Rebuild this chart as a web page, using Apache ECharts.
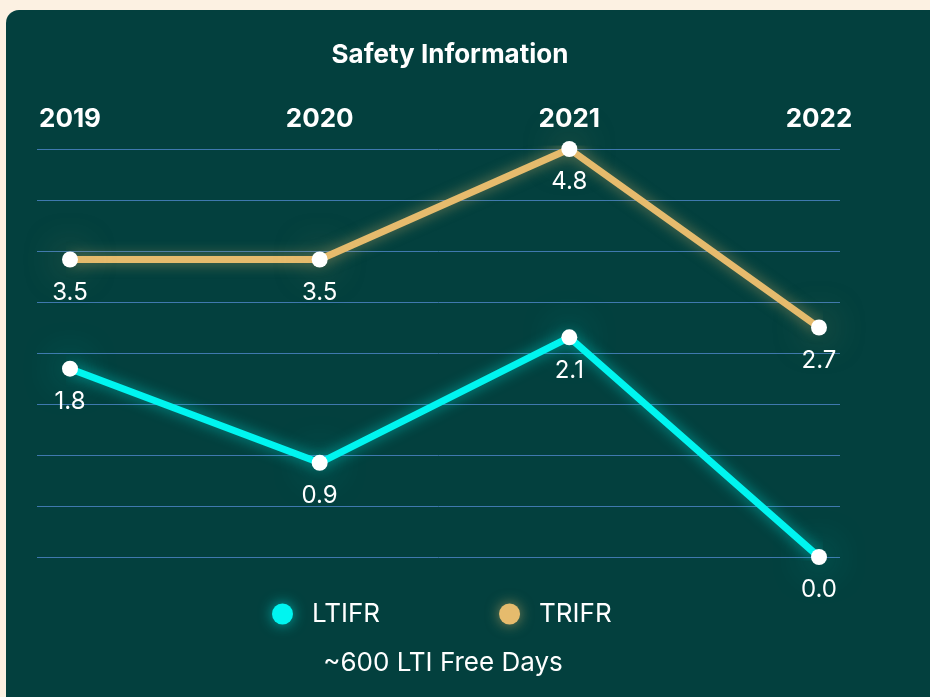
<!DOCTYPE html>
<html>
<head>
<meta charset="utf-8">
<script src="https://cdn.jsdelivr.net/npm/echarts@6/dist/echarts.min.js"></script>
<style>
html,body{margin:0;padding:0;background:#fcf1e2;}
#chart{width:930px;height:697px;}
</style>
</head>
<body>
<div id="chart"></div>
<script>
var years = ['2019', '2020', '2021', '2022'];
var ltifr = [1.8, 0.9, 2.1, 0.0];
var trifr = [3.5, 3.5, 4.8, 2.7];
var titleText = 'Safety Information';
var footnote = '~600 LTI Free Days';

var chart = echarts.init(document.getElementById('chart'));
var font = 'Inter, "Noto Sans", sans-serif';

function lineSeries(name, data, color, glow, axisIdx) {
  return {
    name: name,
    type: 'line',
    xAxisIndex: 0,
    yAxisIndex: axisIdx,
    data: data,
    symbol: 'circle',
    symbolSize: 16,
    z: 3,
    lineStyle: { color: color, width: 7, shadowBlur: 14, shadowColor: glow },
    itemStyle: { color: '#ffffff', shadowBlur: 36, shadowColor: glow },
    label: {
      show: true, position: 'bottom', distance: 13,
      color: '#ffffff', fontFamily: font, fontSize: 24,
      formatter: function (p) { return p.value.toFixed(1); }
    },
    emphasis: { disabled: true }
  };
}

chart.setOption({
  backgroundColor: '#fcf1e2',
  animation: false,
  graphic: [{
    type: 'rect', z: -10,
    shape: { x: 6, y: 10, width: 960, height: 720, r: 13 },
    style: { fill: '#03403e' }
  }],
  title: [{
    text: titleText, left: 445, top: 37, textAlign: 'center',
    textStyle: { color: '#ffffff', fontFamily: font, fontSize: 26, fontWeight: 'bold' }
  }, {
    text: footnote, left: 438, top: 645, textAlign: 'center',
    textStyle: { color: '#ffffff', fontFamily: font, fontSize: 26, fontWeight: 'normal' }
  }],
  legend: {
    top: 596, left: 267,
    itemGap: 119,
    icon: 'circle', itemWidth: 21, itemHeight: 21,
    textStyle: { color: '#ffffff', fontFamily: font, fontSize: 26, padding: [0, 0, 0, 14] },
    data: [
      { name: 'LTIFR', itemStyle: { color: '#00f5f0', shadowBlur: 14, shadowColor: 'rgba(0,245,240,0.6)' } },
      { name: 'TRIFR', itemStyle: { color: '#e6bb6d', shadowBlur: 14, shadowColor: 'rgba(230,187,109,0.6)' } }
    ]
  },
  grid: [
    { left: 70, right: 111, top: 149, bottom: 140 },
    { left: 37, right: 90, top: 149, bottom: 140 }
  ],
  xAxis: [{
    type: 'category', position: 'top', boundaryGap: false, gridIndex: 0,
    data: years,
    axisLine: { show: false }, axisTick: { show: false },
    axisLabel: { color: '#ffffff', fontFamily: font, fontSize: 26, fontWeight: 'bold', margin: 17 },
    splitLine: { show: false }
  }, {
    type: 'value', gridIndex: 1, show: false, min: 0, max: 1
  }],
  yAxis: [{
    type: 'value', gridIndex: 0, min: 0, max: 3.9, show: false, splitLine: { show: false }
  }, {
    type: 'value', gridIndex: 0, min: 0, max: 4.8, show: false, splitLine: { show: false }
  }, {
    type: 'value', gridIndex: 1, min: 0, max: 4.8, interval: 0.6,
    axisLabel: { show: false }, axisLine: { show: false }, axisTick: { show: false },
    splitLine: { show: true, lineStyle: { color: '#3f79ae', width: 1 } }
  }],
  series: [
    lineSeries('LTIFR', ltifr, '#00f5f0', 'rgba(0,245,240,0.55)', 0),
    lineSeries('TRIFR', trifr, '#e6bb6d', 'rgba(230,187,109,0.55)', 1)
  ]
});
</script>
</body>
</html>
